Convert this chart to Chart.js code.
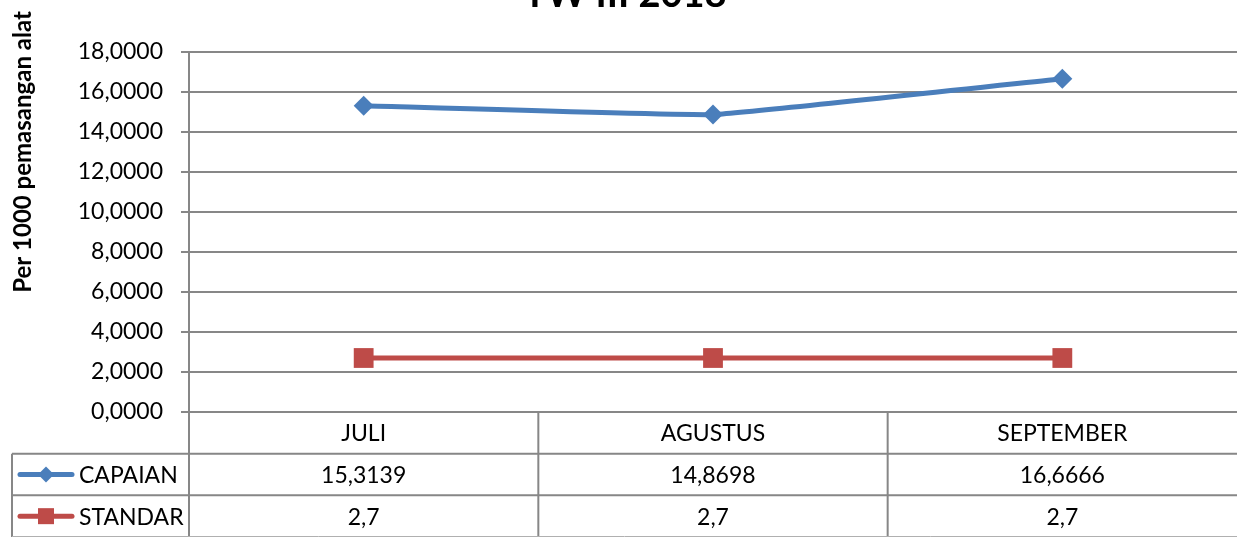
<!DOCTYPE html>
<html>
<head>
<meta charset="utf-8">
<script src="https://cdn.jsdelivr.net/npm/chart.js@4/dist/chart.umd.min.js"></script>
<style>
  html, body { margin: 0; padding: 0; background: #fff; overflow: hidden; }
  canvas { display: block; }
</style>
</head>
<body>
<canvas id="myChart" width="1237" height="537"></canvas>
<script>
// categories along the x-axis
var months = ['JULI', 'AGUSTUS', 'SEPTEMBER'];
// series
var capaian = [15.3139, 14.8698, 16.6666];
var standar = [2.7, 2.7, 2.7];
// y-axis range
var yMin = 0, yMax = 18, yStep = 2;

var titleText = 'TW III 2018';
var yTitle = 'Per 1000 pemasangan alat';

var gridColor = '#878787';
var blue = '#4A7EBB';
var red = '#BE4B48';

function fmt(v) {
  return String(v).replace('.', ',');
}

// draws the title, the y title and the data table under the plot
var tablePlugin = {
  id: 'tablePlugin',
  afterDraw: function(chart) {
    var ctx = chart.ctx;
    var area = chart.chartArea;
    var xs = chart.scales.x;
    var W = chart.width;
    var rowH = (chart.height - area.bottom) / 3;
    var r1 = area.bottom + rowH, r2 = area.bottom + 2 * rowH;
    var tableLeft = 12;
    var colW = (area.right - area.left) / months.length;

    ctx.save();
    // title (cut at the top)
    ctx.fillStyle = '#000';
    ctx.font = 'bold 38px Lato';
    ctx.textAlign = 'center';
    ctx.textBaseline = 'alphabetic';
    ctx.fillText(titleText, 625, 7);

    // y title
    ctx.save();
    ctx.translate(23, 152);
    ctx.rotate(-Math.PI / 2);
    ctx.font = 'bold 24px Lato';
    ctx.textAlign = 'center';
    ctx.textBaseline = 'middle';
    ctx.fillText(yTitle, 0, 0);
    ctx.restore();

    // table lines
    ctx.strokeStyle = gridColor;
    ctx.lineWidth = 2;
    ctx.beginPath();
    ctx.moveTo(tableLeft, r1); ctx.lineTo(W, r1);
    ctx.moveTo(tableLeft, r2); ctx.lineTo(W, r2);
    ctx.moveTo(tableLeft, r1); ctx.lineTo(tableLeft, chart.height);
    for (var i = 0; i < months.length; i++) {
      var bx = area.left + i * colW;
      ctx.moveTo(bx, area.bottom); ctx.lineTo(bx, chart.height);
    }
    ctx.stroke();
    ctx.strokeStyle = '#b0b0b0';
    ctx.lineWidth = 1;
    ctx.beginPath();
    ctx.moveTo(tableLeft, chart.height - 0.5); ctx.lineTo(W, chart.height - 0.5);
    ctx.stroke();

    // table text
    ctx.fillStyle = '#000';
    ctx.font = '23px Lato';
    ctx.textAlign = 'center';
    ctx.textBaseline = 'middle';
    for (var j = 0; j < months.length; j++) {
      var cx = xs.getPixelForValue(j);
      ctx.fillText(months[j], cx, area.bottom + rowH / 2 + 1);
      ctx.fillText(fmt(capaian[j]), cx, r1 + rowH / 2 + 1);
      ctx.fillText(fmt(standar[j]), cx, r2 + rowH / 2 + 1);
    }

    // legend keys
    ctx.textAlign = 'left';
    ctx.fillText('CAPAIAN', 79, r1 + rowH / 2 + 1);
    ctx.fillText('STANDAR', 79, r2 + rowH / 2 + 1);
    ctx.lineWidth = 5;
    ctx.lineCap = 'round';
    ctx.strokeStyle = blue;
    ctx.beginPath();
    ctx.moveTo(20, r1 + rowH / 2); ctx.lineTo(72, r1 + rowH / 2);
    ctx.stroke();
    ctx.fillStyle = blue;
    ctx.beginPath();
    var ky = r1 + rowH / 2;
    ctx.moveTo(46, ky - 8); ctx.lineTo(54, ky); ctx.lineTo(46, ky + 8); ctx.lineTo(38, ky);
    ctx.closePath();
    ctx.fill();
    ctx.strokeStyle = red;
    ctx.beginPath();
    ctx.moveTo(20, r2 + rowH / 2); ctx.lineTo(72, r2 + rowH / 2);
    ctx.stroke();
    ctx.fillStyle = red;
    ctx.fillRect(38, r2 + rowH / 2 - 8, 16, 16);
    ctx.restore();
  }
};

var ctx = document.getElementById('myChart');
var myChart = new Chart(ctx, {
  type: 'line',
  data: {
    labels: months,
    datasets: [
      {
        label: 'CAPAIAN',
        data: capaian,
        borderColor: blue,
        backgroundColor: blue,
        borderWidth: 5,
        pointStyle: 'rectRot',
        pointRadius: 10,
        pointBorderWidth: 0,
        tension: 0.08,
        fill: false
      },
      {
        label: 'STANDAR',
        data: standar,
        borderColor: red,
        backgroundColor: red,
        borderWidth: 5,
        pointStyle: 'rect',
        pointRadius: 14,
        pointBorderWidth: 0,
        fill: false
      }
    ]
  },
  options: {
    responsive: false,
    animation: false,
    layout: { autoPadding: false, padding: { top: 52, right: 0, left: 0, bottom: 0 } },
    plugins: {
      legend: { display: false },
      tooltip: { enabled: false },
      title: { display: false }
    },
    scales: {
      x: {
        offset: true,
        ticks: { display: false },
        grid: { display: false },
        border: { display: false },
        afterFit: function(scale) { scale.height = 125; }
      },
      y: {
        min: yMin,
        max: yMax,
        ticks: {
          stepSize: yStep,
          color: '#000',
          padding: 18,
          font: { family: 'Lato', size: 23 },
          callback: function(v) { return v.toFixed(4).replace('.', ','); }
        },
        grid: { color: gridColor, lineWidth: 2, tickLength: 8 },
        border: { display: true, color: gridColor, width: 2 },
        afterFit: function(scale) { scale.width = 189; }
      }
    }
  },
  plugins: [tablePlugin]
});
</script>
</body>
</html>
